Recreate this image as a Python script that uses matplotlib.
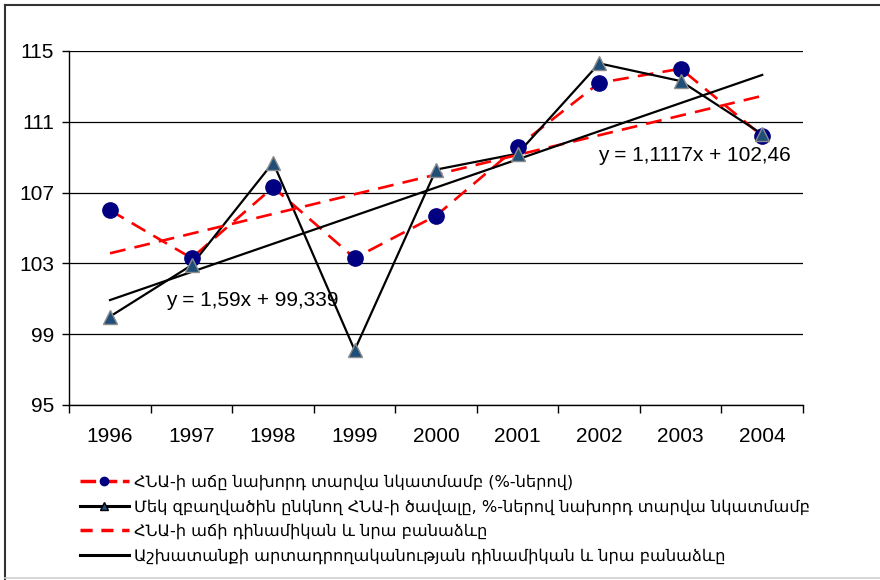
import matplotlib.pyplot as plt
import numpy as np
from matplotlib.lines import Line2D

# data
years = ["1996", "1997", "1998", "1999", "2000", "2001", "2002", "2003", "2004"]
gdp_growth = [106.0, 103.3, 107.3, 103.3, 105.7, 109.6, 113.2, 114.0, 110.2]
productivity = [100.0, 102.9, 108.7, 98.1, 108.3, 109.2, 114.3, 113.3, 110.3]
gdp_trend = (1.1117, 102.46)
prod_trend = (1.59, 99.339)
yticks = [95, 99, 103, 107, 111, 115]

labels = [
    "ՀՆԱ-ի աճը նախորդ տարվա նկատմամբ (%-ներով)",
    "Մեկ զբաղվածին ընկնող ՀՆԱ-ի ծավալը, %-ներով նախորդ տարվա նկատմամբ",
    "ՀՆԱ-ի աճի դինամիկան և նրա բանաձևը",
    "Աշխատանքի արտադրողականության դինամիկան և նրա բանաձևը",
]

RED = "#ff0000"
NAVY = "#000080"
TRI = "#1f4e79"
DASH = (6, 3.5)

fig = plt.figure(figsize=(8.8, 5.8), dpi=100)
ax = fig.add_axes([69.3 / 880, 1 - 405 / 580, (803 - 69.3) / 880, (405 - 51) / 580])

x = np.arange(1, len(years) + 1)

# series lines
ax.plot(x, gdp_growth, color=RED, lw=1.9, dashes=DASH, zorder=3)
ax.plot(x, productivity, color="black", lw=1.6, zorder=3)

# trend lines
ax.plot(x[[0, -1]], gdp_trend[0] * x[[0, -1]] + gdp_trend[1],
        color=RED, lw=1.9, dashes=DASH, zorder=4)
ax.plot(x[[0, -1]], prod_trend[0] * x[[0, -1]] + prod_trend[1],
        color="black", lw=1.6, zorder=4)

# markers
ax.plot(x, gdp_growth, ls="none", marker="o", ms=11, mfc=NAVY, mec=NAVY, zorder=5)
ax.plot(x, productivity, ls="none", marker="^", ms=10, mfc=TRI, mec="#8c8c8c",
        mew=1.0, zorder=6)

ax.text(1.69, 100.93, "y = 1,59x + 99,339", fontsize=15, family="Liberation Sans",
        va="center", ha="left", zorder=7)
ax.text(6.99, 109.07, "y = 1,1117x + 102,46", fontsize=15, family="Liberation Sans",
        va="center", ha="left", zorder=7)

ax.set_xlim(0.5, len(years) + 0.5)
ax.set_ylim(95, 115)
ax.set_yticks(yticks)
ax.set_yticklabels([str(v) for v in yticks], fontsize=15, family="Liberation Sans")
ax.set_xticks(x)
ax.set_xticklabels(years, fontsize=15, family="Liberation Sans")
ax.set_xticks(np.arange(0.5, len(years) + 1), minor=True)
ax.tick_params(axis="x", which="major", length=0, pad=15.5)
ax.tick_params(axis="x", which="minor", length=6, width=1, direction="out")
ax.tick_params(axis="y", length=5, width=1, direction="out", pad=6)

ax.grid(axis="y", color="black", lw=0.9)
ax.set_axisbelow(True)
for s in ["top", "right"]:
    ax.spines[s].set_visible(False)
ax.spines["left"].set_linewidth(1)
ax.spines["bottom"].set_linewidth(1)

handles = [
    Line2D([], [], color=RED, lw=2.5, dashes=(4.5, 1.6), marker="o", ms=6,
           mfc=NAVY, mec=NAVY),
    Line2D([], [], color="black", lw=2.2, marker="^", ms=6, mfc=TRI, mec="black"),
    Line2D([], [], color=RED, lw=2.5, dashes=(3.5, 2.5)),
    Line2D([], [], color="black", lw=2.2),
]
fig.legend(handles, labels, loc="upper left", bbox_to_anchor=(80 / 880, 1 - 474 / 580),
           frameon=False, fontsize=11.7, handlelength=3.0, handletextpad=0.3,
           labelspacing=0.56, borderpad=0, borderaxespad=0)

# chart border
fig.add_artist(Line2D([5 / 880, 5 / 880], [0, 1 - 5 / 580], color="#333333", lw=1.5))
fig.add_artist(Line2D([5 / 880, 1], [1 - 5 / 580, 1 - 5 / 580], color="#333333", lw=1.5))
fig.add_artist(Line2D([5 / 880, 1], [2 / 580, 2 / 580], color="#d0d0d0", lw=1.2))

fig.savefig("out.png", dpi=100)
